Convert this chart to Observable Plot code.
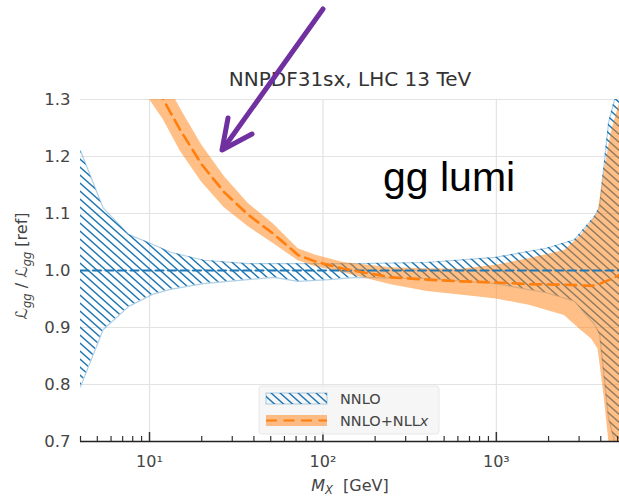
<!DOCTYPE html>
<html>
<head>
<meta charset="utf-8">
<script src="https://cdn.jsdelivr.net/npm/d3@7"></script>
<script src="https://cdn.jsdelivr.net/npm/@observablehq/plot@0.6"></script>
<style>
  html, body { margin: 0; padding: 0; background: #fff; }
  #chart { width: 619px; height: 499px; overflow: hidden; }
  #chart svg { display: block; }
</style>
</head>
<body>
<div id="chart"></div>
<script>
// gg luminosity ratio to the NNLO reference, NNPDF3.1sx, LHC 13 TeV

// NNLO: mass points (GeV), central ratio and uncertainty band
const nnloMass    = [4, 5.4, 7.6, 10.4, 13.2, 20.5, 36.8, 52, 72, 108, 157, 394, 986, 1945, 2825, 3690, 3940, 4440, 4810, 5200];
const nnloCentral = [1, 1, 1, 1, 1, 1, 1, 1, 1, 1, 1, 1, 1, 1, 1, 1, 1, 1, 1, 1];
const nnloLow     = [0.796, 0.896, 0.937, 0.958, 0.967, 0.977, 0.984, 0.988, 0.981, 0.984, 0.988, 0.986, 0.977, 0.961, 0.946, 0.905, 0.888, 0.74, 0.70, 0.65];
const nnloHigh    = [1.21, 1.11, 1.063, 1.046, 1.032, 1.018, 1.012, 1.012, 1.012, 1.012, 1.012, 1.014, 1.023, 1.039, 1.054, 1.095, 1.112, 1.26, 1.30, 1.35];

// NNLO+NLLx: mass points (GeV), central ratio and uncertainty band
const resumMass    = [10, 12, 15, 20, 27, 37, 52, 72, 90, 131, 247, 400, 620, 1000, 1550, 2470, 3050, 3540, 3860, 4180, 4600, 5200];
const resumCentral = [1.345, 1.30, 1.247, 1.186, 1.137, 1.098, 1.064, 1.027, 1.016, 1.003, 0.988, 0.984, 0.981, 0.979, 0.976, 0.975, 0.974, 0.973, 0.975, 0.98, 0.985, 0.993];
const resumLow     = [1.30, 1.265, 1.21, 1.155, 1.11, 1.077, 1.047, 1.017, 1.007, 0.996, 0.975, 0.963, 0.957, 0.950, 0.939, 0.921, 0.896, 0.880, 0.862, 0.78, 0.66, 0.55];
const resumHigh    = [1.39, 1.34, 1.285, 1.22, 1.165, 1.118, 1.081, 1.038, 1.027, 1.014, 1.005, 1.003, 1.002, 1.009, 1.021, 1.035, 1.06, 1.085, 1.102, 1.172, 1.242, 1.30];

// axis ticks
const xMajorTicks = [10, 100, 1000];
const xMinorTicks = [4, 5, 6, 7, 8, 9, 20, 30, 40, 50, 60, 70, 80, 90, 200, 300, 400, 500, 600, 700, 800, 900, 2000, 3000, 4000, 5000];
const xTickLabels = ["10¹", "10²", "10³"];
const yTicks = [0.7, 0.8, 0.9, 1.0, 1.1, 1.2, 1.3];

const nnlo = nnloMass.map((m, i) => ({m, c: nnloCentral[i], lo: nnloLow[i], hi: nnloHigh[i]}));
const resum = resumMass.map((m, i) => ({m, c: resumCentral[i], lo: resumLow[i], hi: resumHigh[i]}));

const blue = "#1f77b4", orange = "#ff7f0e", textGray = "#444";

const plot = Plot.plot({
  width: 619,
  height: 499,
  marginLeft: 80,
  marginRight: 0,
  marginTop: 99,
  marginBottom: 58,
  x: {type: "log", domain: [4, 5130]},
  y: {domain: [0.7, 1.3]},
  style: {fontFamily: "DejaVu Sans", background: "transparent", overflow: "visible"},
  marks: [
    Plot.gridX(xMajorTicks, {stroke: "#e3e3e3", strokeOpacity: 1, strokeWidth: 1.2}),
    Plot.gridY(yTicks.slice(1), {stroke: "#e3e3e3", strokeOpacity: 1, strokeWidth: 1.2}),
    // NNLO band: hatched
    Plot.areaY(nnlo, {x: "m", y1: "lo", y2: "hi", fill: "url(#nnloHatch)", clip: true}),
    Plot.lineY(nnlo, {x: "m", y: "hi", stroke: blue, strokeOpacity: 0.35, strokeWidth: 1.2, clip: true}),
    Plot.lineY(nnlo, {x: "m", y: "lo", stroke: blue, strokeOpacity: 0.35, strokeWidth: 1.2, clip: true}),
    // NNLO+NLLx band: filled
    Plot.areaY(resum, {x: "m", y1: "lo", y2: "hi", fill: orange, fillOpacity: 0.5, clip: true}),
    // central values
    Plot.lineY(nnlo, {x: "m", y: "c", stroke: blue, strokeWidth: 2, strokeDasharray: "8,4.5", clip: true}),
    Plot.lineY(resum, {x: "m", y: "c", stroke: orange, strokeWidth: 2.6, strokeDasharray: "11,6.5", clip: true}),
    // bottom spine and inward ticks
    Plot.ruleY([0.7], {stroke: "#222", strokeWidth: 1.6}),
    Plot.axisX(xMajorTicks, {tickSize: -9, stroke: "#333", strokeWidth: 1.5, fill: "none", label: null}),
    Plot.axisX(xMinorTicks, {tickSize: -5, stroke: "#333", strokeWidth: 1.2, fill: "none", label: null}),
    // tick labels
    Plot.axisX(xMajorTicks, {tickSize: 0, tickPadding: 14, fontSize: 16, fill: textGray, label: null,
      tickFormat: d => xTickLabels[xMajorTicks.indexOf(d)]}),
    Plot.axisY(yTicks, {tickSize: 0, tickPadding: 10, fontSize: 16.5, fill: textGray, label: null,
      tickFormat: d3.format(".1f")})
  ]
});

document.getElementById("chart").appendChild(plot);

const svg = d3.select(plot);

// hatch pattern for the NNLO band
const defs = svg.insert("defs", ":first-child");
const pat = defs.append("pattern")
  .attr("id", "nnloHatch")
  .attr("patternUnits", "userSpaceOnUse")
  .attr("width", 9).attr("height", 8);
pat.append("path")
  .attr("d", "M-1,-0.89L10,8.89M8,-0.89L10,0.89M-1,7.11L1,8.89")
  .attr("stroke", blue).attr("stroke-width", 1.4).attr("fill", "none");

// title
svg.append("text")
  .attr("x", 350).attr("y", 86)
  .attr("text-anchor", "middle")
  .attr("font-family", "DejaVu Sans")
  .attr("font-size", 20)
  .attr("fill", "#333")
  .text("NNPDF31sx, LHC 13 TeV");

// y-axis label
const yl = svg.append("text")
  .attr("transform", "translate(27,266) rotate(-90)")
  .attr("text-anchor", "middle")
  .attr("font-family", "DejaVu Sans")
  .attr("font-size", 16)
  .attr("fill", textGray);
yl.append("tspan").text("ℒ");
yl.append("tspan").attr("font-size", 11.5).attr("font-style", "italic").attr("dy", 4).text("gg");
yl.append("tspan").attr("dy", -4).text(" / ℒ");
yl.append("tspan").attr("font-size", 11.5).attr("font-style", "italic").attr("dy", 4).text("gg");
yl.append("tspan").attr("dy", -4).text(" [ref]");

// x-axis label
const xl = svg.append("text")
  .attr("x", 350).attr("y", 491)
  .attr("text-anchor", "middle")
  .attr("font-family", "DejaVu Sans")
  .attr("font-size", 16)
  .attr("fill", textGray);
xl.append("tspan").attr("font-style", "italic").text("M");
xl.append("tspan").attr("font-style", "italic").attr("font-size", 11.5).attr("dy", 3).text("X");
xl.append("tspan").attr("dy", -3).text("  [GeV]");

// legend
const lg = svg.append("g").attr("text-anchor", "start");
lg.append("rect")
  .attr("x", 259).attr("y", 386).attr("width", 180).attr("height", 48)
  .attr("rx", 3)
  .attr("fill", "#f4f4f4").attr("fill-opacity", 0.85)
  .attr("stroke", "#e8e8e8");
lg.append("rect")
  .attr("x", 266).attr("y", 393).attr("width", 61).attr("height", 11)
  .attr("fill", "url(#nnloHatch)")
  .attr("stroke", blue).attr("stroke-opacity", 0.35);
lg.append("rect")
  .attr("x", 266).attr("y", 415).attr("width", 61).attr("height", 11)
  .attr("fill", orange).attr("fill-opacity", 0.5);
lg.append("line")
  .attr("x1", 266).attr("x2", 327).attr("y1", 420.5).attr("y2", 420.5)
  .attr("stroke", orange).attr("stroke-width", 2.2).attr("stroke-dasharray", "11,6.5");
lg.append("text")
  .attr("x", 340).attr("y", 404)
  .attr("text-anchor", "start")
  .attr("font-family", "DejaVu Sans").attr("font-size", 14.5).attr("fill", textGray)
  .text("NNLO");
const lt = lg.append("text")
  .attr("x", 340).attr("y", 426)
  .attr("text-anchor", "start")
  .attr("font-family", "DejaVu Sans").attr("font-size", 14.5).attr("fill", textGray);
lt.append("tspan").text("NNLO+NLL");
lt.append("tspan").attr("font-style", "italic").text("x");

// annotation
svg.append("text")
  .attr("x", 383).attr("y", 191)
  .attr("text-anchor", "start")
  .attr("font-family", "Liberation Sans, Arial, sans-serif")
  .attr("font-size", 41)
  .attr("fill", "#000")
  .text("gg lumi");

const arrow = svg.append("g")
  .attr("stroke", "#7030a0").attr("stroke-width", 5)
  .attr("stroke-linecap", "round").attr("stroke-linejoin", "round")
  .attr("fill", "none");
arrow.append("path").attr("d", "M323,9L223,149");
arrow.append("path").attr("d", "M228,118L222,150L252,134");
</script>
</body>
</html>
